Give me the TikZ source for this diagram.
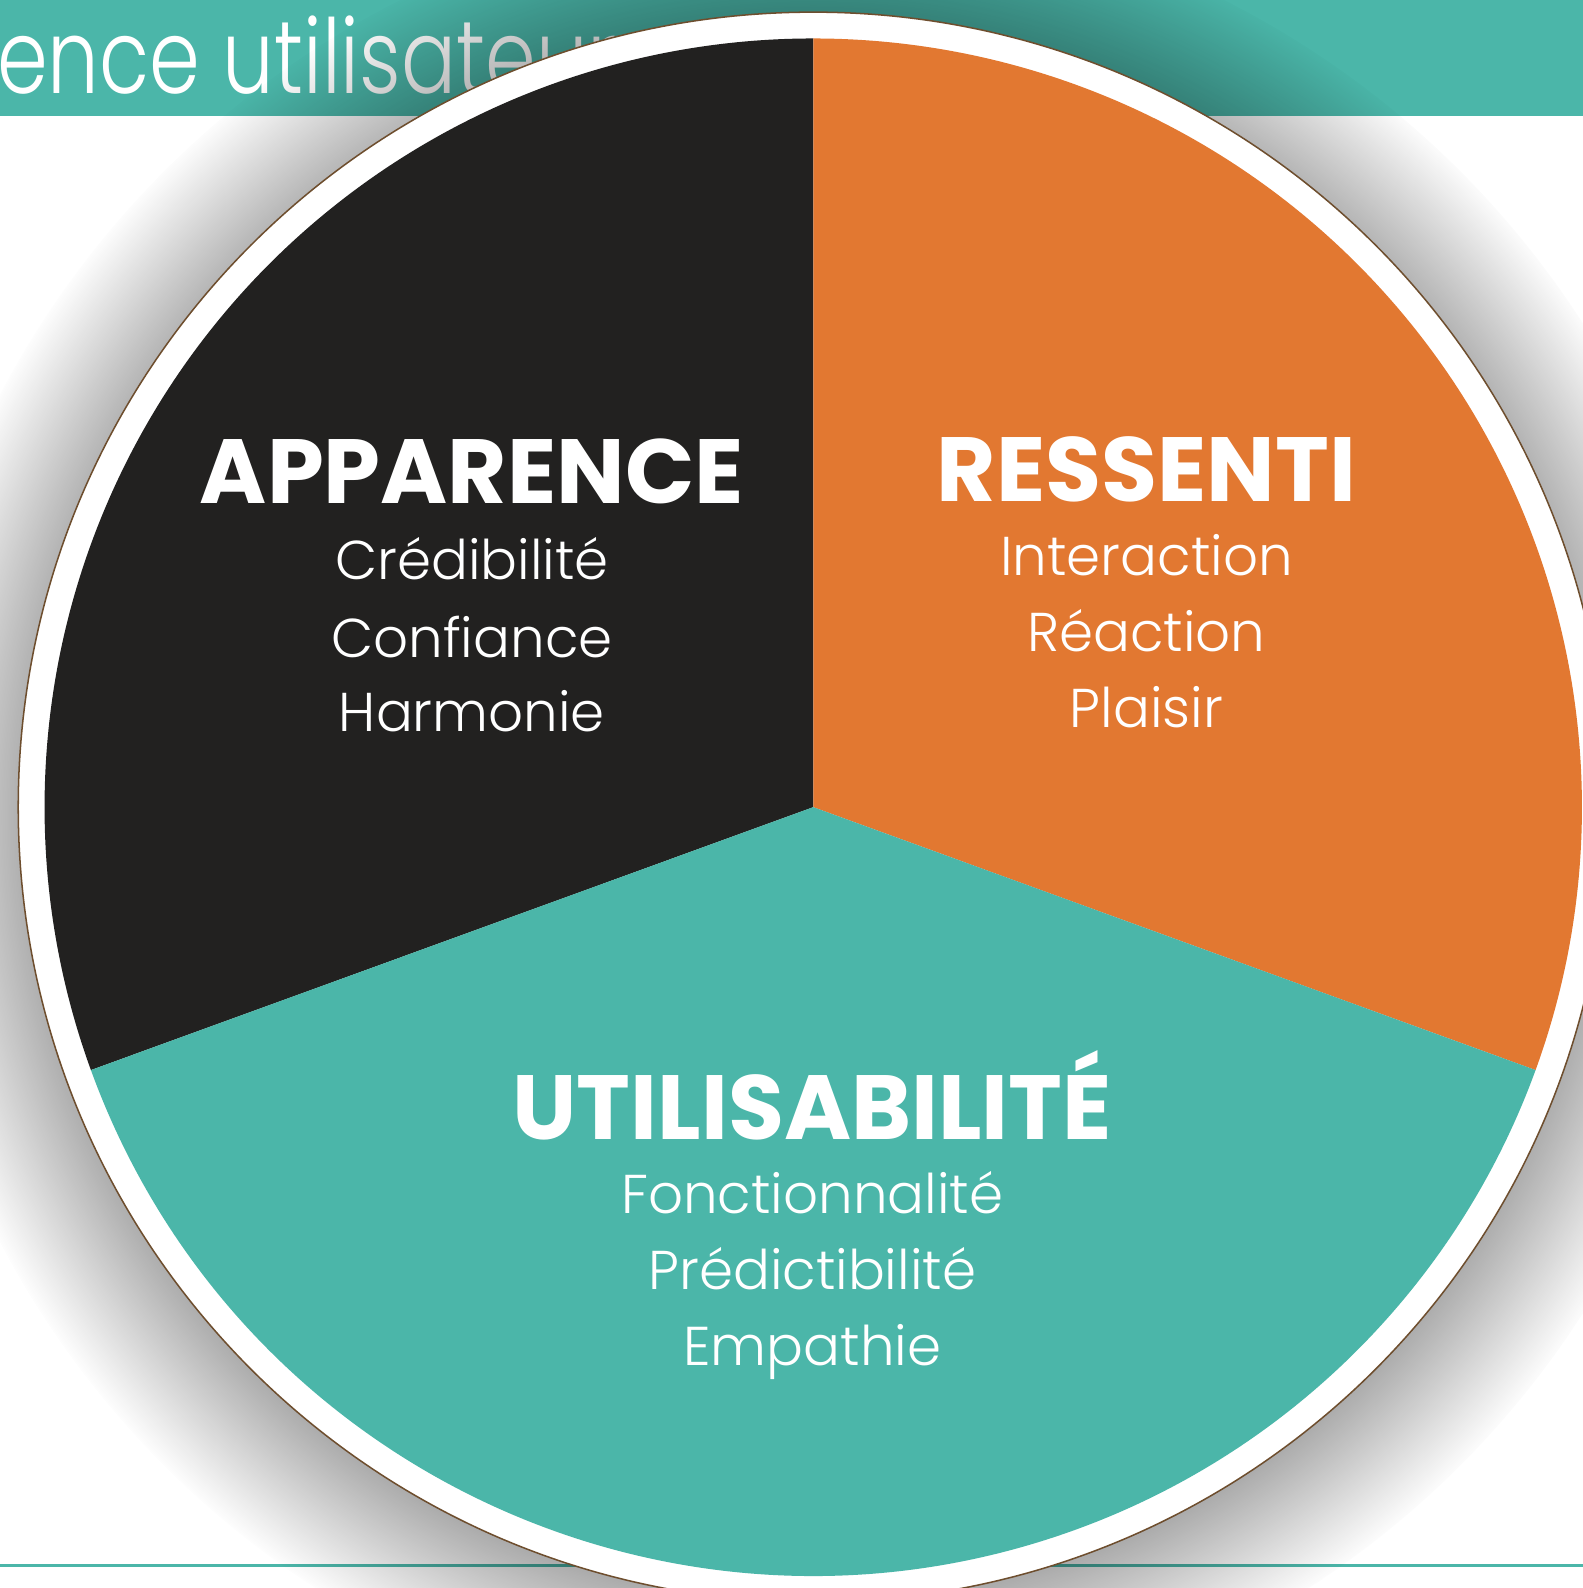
\documentclass[tikz,border=0pt]{standalone}
\usepackage{fontspec}
\setmainfont{Poppins}
\newfontfamily\lightfont{Poppins Light}
\usetikzlibrary{fadings}

\definecolor{uxteal}{HTML}{4BB6A9}
\definecolor{uxorange}{HTML}{E27831}
\definecolor{uxblack}{HTML}{222120}
\definecolor{ringbrown}{HTML}{6E4E2E}

\begin{document}
\begin{tikzpicture}[x=1pt,y=1pt,
  head/.style={text=white, inner sep=0, font=\fontsize{90}{90}\selectfont\bfseries},
  item/.style={text=white, inner sep=0, font=\lightfont\fontsize{54}{54}\selectfont}]

  \useasboundingbox (0,0) rectangle (1563,1568);
  \clip (0,0) rectangle (1563,1568);

  \coordinate (c) at (803,771);

  % banner and rule
  \fill[uxteal] (0,1453) rectangle (1563,1568);
  \node[anchor=base west, inner sep=0, text=white, font=\lightfont\fontsize{102}{102}\selectfont]
    (title) at (-3,1476) {\scalebox{0.79}[1]{\llap{Expéri}ence utilisateur}};
  \fill[uxteal] (0,21) rectangle (1563,24);

  % disk
  \fill[black, opacity=0.45, path fading=circle with fuzzy edge 20 percent]
    ([yshift=-10]c) circle (905);
  \fill[white, draw=ringbrown, line width=1.5] (c) circle (785);
  \fill[uxblack] (c) -- ++(90:759) arc (90:200:759) -- cycle;
  \fill[uxorange] (c) -- ++(-20:759) arc (-20:90:759) -- cycle;
  \fill[uxteal] (c) -- ++(200:759) arc (200:340:759) -- cycle;

  % apparence
  \node[head, anchor=base] (app) at (466,1071) {APPARENCE};
  \node[item, anchor=base] (cred) at (466,996) {Crédibilité};
  \node[item, anchor=base] (conf) at (466,919) {Confiance};
  \node[item, anchor=base] (harm) at (466,846) {Harmonie};

  % ressenti
  \node[head, anchor=base] (res) at (1132,1073) {RESSENTI};
  \node[item, anchor=base] (inter) at (1132,1000) {Interaction};
  \node[item, anchor=base] (reac) at (1132,925) {Réaction};
  \node[item, anchor=base] (plai) at (1132,850) {Plaisir};

  % utilisabilite
  \node[head, anchor=base] (uti) at (802,443) {UTILISABILITÉ};
  \node[item, anchor=base] (fonc) at (802,370) {Fonctionnalité};
  \node[item, anchor=base] (pred) at (802,295) {Prédictibilité};
  \node[item, anchor=base] (emp) at (802,220) {Empathie};

\end{tikzpicture}
\end{document}
